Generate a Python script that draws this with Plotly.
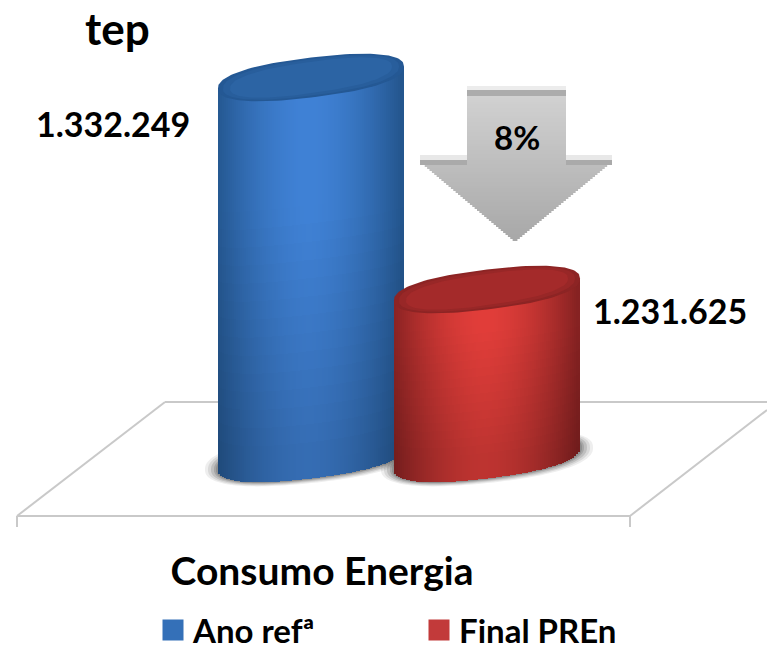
import math
import plotly.graph_objects as go

# ---- data ----
category = "Consumo Energia"
series_names = ["Ano refª", "Final PREn"]
series_values = [1332249, 1231625]
unit_label = "tep"
reduction_label = "8%"

# ---- layout constants (pixels of the 767x654 page) ----
W, H = 767, 654
AXIS_PX = 527                # bottom of plot area
BASE_PX = 458.5              # level of the cylinder bases
PER_PX = (series_values[0] - series_values[1]) / (289.5 - 77.5)   # value per pixel
FLOOR = series_values[1] - (BASE_PX - 289.5) * PER_PX
Y_MIN = FLOOR - (AXIS_PX - BASE_PX) * PER_PX
Y_MAX = FLOOR + BASE_PX * PER_PX
centers = [311, 487]
A, TILT, B = 93, 11, 20.0     # half width, shear, half minor axis (px)
ROUND = 0.85                  # <1 gives the fuller, rounder cylinder ends
STRIP, ROWS = 2, 22

FONT = "Lato, Carlito, Calibri, sans-serif"
styles = [
    dict(mid="#3470b8", center=(64, 130, 214), edge=(36, 86, 142), top_o=(36, 88, 148), top_i=(44, 100, 164)),
    dict(mid="#c23a3a", center=(226, 62, 58), edge=(134, 34, 34), top_o=(140, 36, 36), top_i=(164, 42, 42)),
]


def mix(c1, c2, t):
    return tuple(c1[i] + (c2[i] - c1[i]) * t for i in range(3))


def rgb(c):
    return f"rgb({int(c[0])},{int(c[1])},{int(c[2])})"


def spow(v, p):
    return math.copysign(abs(v) ** p, v)


def ellipse_xy(cx, level, a=A, tilt=TILT, b=B, n=120):
    xs, ys = [], []
    for k in range(n + 1):
        t = 2 * math.pi * k / n
        c, s = spow(math.cos(t), ROUND), spow(math.sin(t), ROUND)
        xs.append(cx + a * c)
        ys.append(level + (tilt * c + b * s) * PER_PX)
    return xs, ys


def to_path(xs, ys):
    return "M" + "L".join(f"{x:.2f},{y:.2f}" for x, y in zip(xs, ys)) + "Z"


fig = go.Figure()
shapes = []

# floor outline
floor_lines = [
    ((165, 402), (767, 402)), ((17, 516), (630, 516)), ((165, 402), (17, 516)),
    ((767, 410), (630, 516)), ((17, 516), (17, 527)), ((630, 516), (630, 527)),
]
for (x0, y0), (x1, y1) in floor_lines:
    shapes.append(dict(type="line", xref="x", yref="paper", layer="below",
                       x0=x0, x1=x1, y0=1 - y0 / AXIS_PX, y1=1 - y1 / AXIS_PX,
                       line=dict(color="#c9c9c9", width=2)))

# soft ground shadow
for cx in centers:
    for grow, alpha in ((13, 0.10), (10, 0.14), (7, 0.2), (4, 0.25), (2, 0.3)):
        xs, ys = ellipse_xy(cx, FLOOR, a=A + grow, b=B + grow * 0.35)
        shapes.append(dict(type="path", xref="x", yref="y", layer="below", path=to_path(xs, ys),
                           fillcolor=f"rgba(90,90,90,{alpha})", line=dict(width=0)))

# cylinder bodies: bars built up in narrow strips for the shading
for name, value, cx, st in zip(series_names, series_values, centers, styles):
    bx, bbase, bh, bcol = [], [], [], []
    x = cx - A + STRIP / 2
    while x < cx + A:
        u = (x - cx) / A
        lower = TILT * u - B * max(0, 1 - abs(u) ** (2 / ROUND)) ** (ROUND / 2)
        bottom = FLOOR + lower * PER_PX
        top = value + TILT * u * PER_PX
        shade = 1 - min(1, abs(u + 0.03) ** 1.7)
        for r in range(ROWS):
            b0 = bottom + (top - bottom) * r / ROWS
            b1 = bottom + (top - bottom) * (r + 1) / ROWS
            # darkening toward the bottom depends on absolute height on the page
            v = (b0 - FLOOR) / (series_values[0] - FLOOR)
            dark = 0.84 + 0.16 * min(1, max(0, v * 1.6 if cx == centers[0] else v * 3.0))
            c = mix(st["edge"], st["center"], shade)
            bx.append(x)
            bbase.append(b0)
            bh.append(b1 - b0)
            bcol.append(rgb(tuple(ch * dark for ch in c)))
        x += STRIP
    fig.add_trace(go.Bar(x=bx, y=bh, base=bbase, width=STRIP + 0.4, marker=dict(color=bcol, line=dict(width=0)),
                         showlegend=False, hoverinfo="skip", name=name))

# value points (give the legend its keys; sit under the cylinder tops)
for name, value, cx, st in zip(series_names, series_values, centers, styles):
    fig.add_trace(go.Scatter(x=[cx], y=[value], mode="markers", name=name,
                             marker=dict(symbol="square", size=16, color=st["mid"],
                                         line=dict(color=st["mid"], width=5))))

# cylinder tops
for value, cx, st in zip(series_values, centers, styles):
    for shrink, col in ((0, st["top_o"]), (5, mix(st["top_o"], st["top_i"], 0.5)), (12, st["top_i"])):
        xs, ys = ellipse_xy(cx, value, a=A - shrink, b=B - shrink * 0.35)
        fig.add_trace(go.Scatter(x=xs, y=ys, mode="lines", fill="toself", fillcolor=rgb(col),
                                 line=dict(width=0), showlegend=False, hoverinfo="skip"))

# arrow
ARROW_TOP, ARROW_NECK, ARROW_TIP = 86, 160, 240
for py in range(ARROW_TOP, ARROW_TIP, 2):
    if py < ARROW_NECK:
        xl, xr = 467, 566
    else:
        f = (py - ARROW_NECK) / (ARROW_TIP - ARROW_NECK)
        xl, xr = 420 + 95 * f, 612 - 97 * f
    g = 212 - 44 * (py - ARROW_TOP) / (ARROW_TIP - ARROW_TOP)
    if py < 90:
        g = 236
    elif py < 95:
        g = 172
    shapes.append(dict(type="rect", xref="x", yref="paper", layer="above", x0=xl, x1=xr,
                       y0=1 - (py + 3) / AXIS_PX, y1=1 - py / AXIS_PX,
                       fillcolor=f"rgb({int(g)},{int(g)},{int(g)})", line=dict(width=0)))
# arrow wing highlights
for x0, x1 in ((420, 467), (566, 612)):
    for y0, y1, g in ((155, 160, 232), (160, 165, 170)):
        shapes.append(dict(type="rect", xref="x", yref="paper", layer="above", x0=x0, x1=x1,
                           y0=1 - y1 / AXIS_PX, y1=1 - y0 / AXIS_PX,
                           fillcolor=f"rgb({g},{g},{g})", line=dict(width=0)))


def dotted(v):
    return f"{v:,}".replace(",", ".")


def label(text, px, py, size=34):
    return dict(text=text, x=px, y=1 - py / AXIS_PX, xref="x", yref="paper", showarrow=False,
                xanchor="center", yanchor="middle",
                font=dict(family=FONT, size=size, color="black", weight=700))


annotations = [
    label(unit_label, 117, 28, size=44),
    label(dotted(series_values[0]), 113, 123),
    label(dotted(series_values[1]), 670, 310),
    label(reduction_label, 517, 137, size=33),
]

fig.update_layout(
    width=W, height=H, autosize=False, barmode="overlay", bargap=0,
    margin=dict(l=0, r=0, t=0, b=H - AXIS_PX, pad=0),
    paper_bgcolor="white", plot_bgcolor="white",
    shapes=shapes, annotations=annotations,
    xaxis=dict(range=[0, W], showgrid=False, zeroline=False, showline=False,
               tickmode="array", tickvals=[322], ticktext=[category], ticks="",
               ticklabelstandoff=18, automargin=False,
               tickfont=dict(family=FONT, size=39, color="black", weight=700)),
    yaxis=dict(range=[Y_MIN, Y_MAX], visible=False, automargin=False),
    showlegend=True,
    legend=dict(orientation="h", x=153 / W, y=1 - 602 / H, yref="container", xanchor="left", yanchor="top",
                font=dict(family=FONT, size=33, color="black", weight=700),
                entrywidth=221, entrywidthmode="pixels", itemsizing="trace",
                bgcolor="rgba(0,0,0,0)", itemclick=False, itemdoubleclick=False),
)
fig.write_html("out.html", config=dict(displayModeBar=False),
               post_script="document.body.style.margin='0';document.body.style.overflow='hidden';")
